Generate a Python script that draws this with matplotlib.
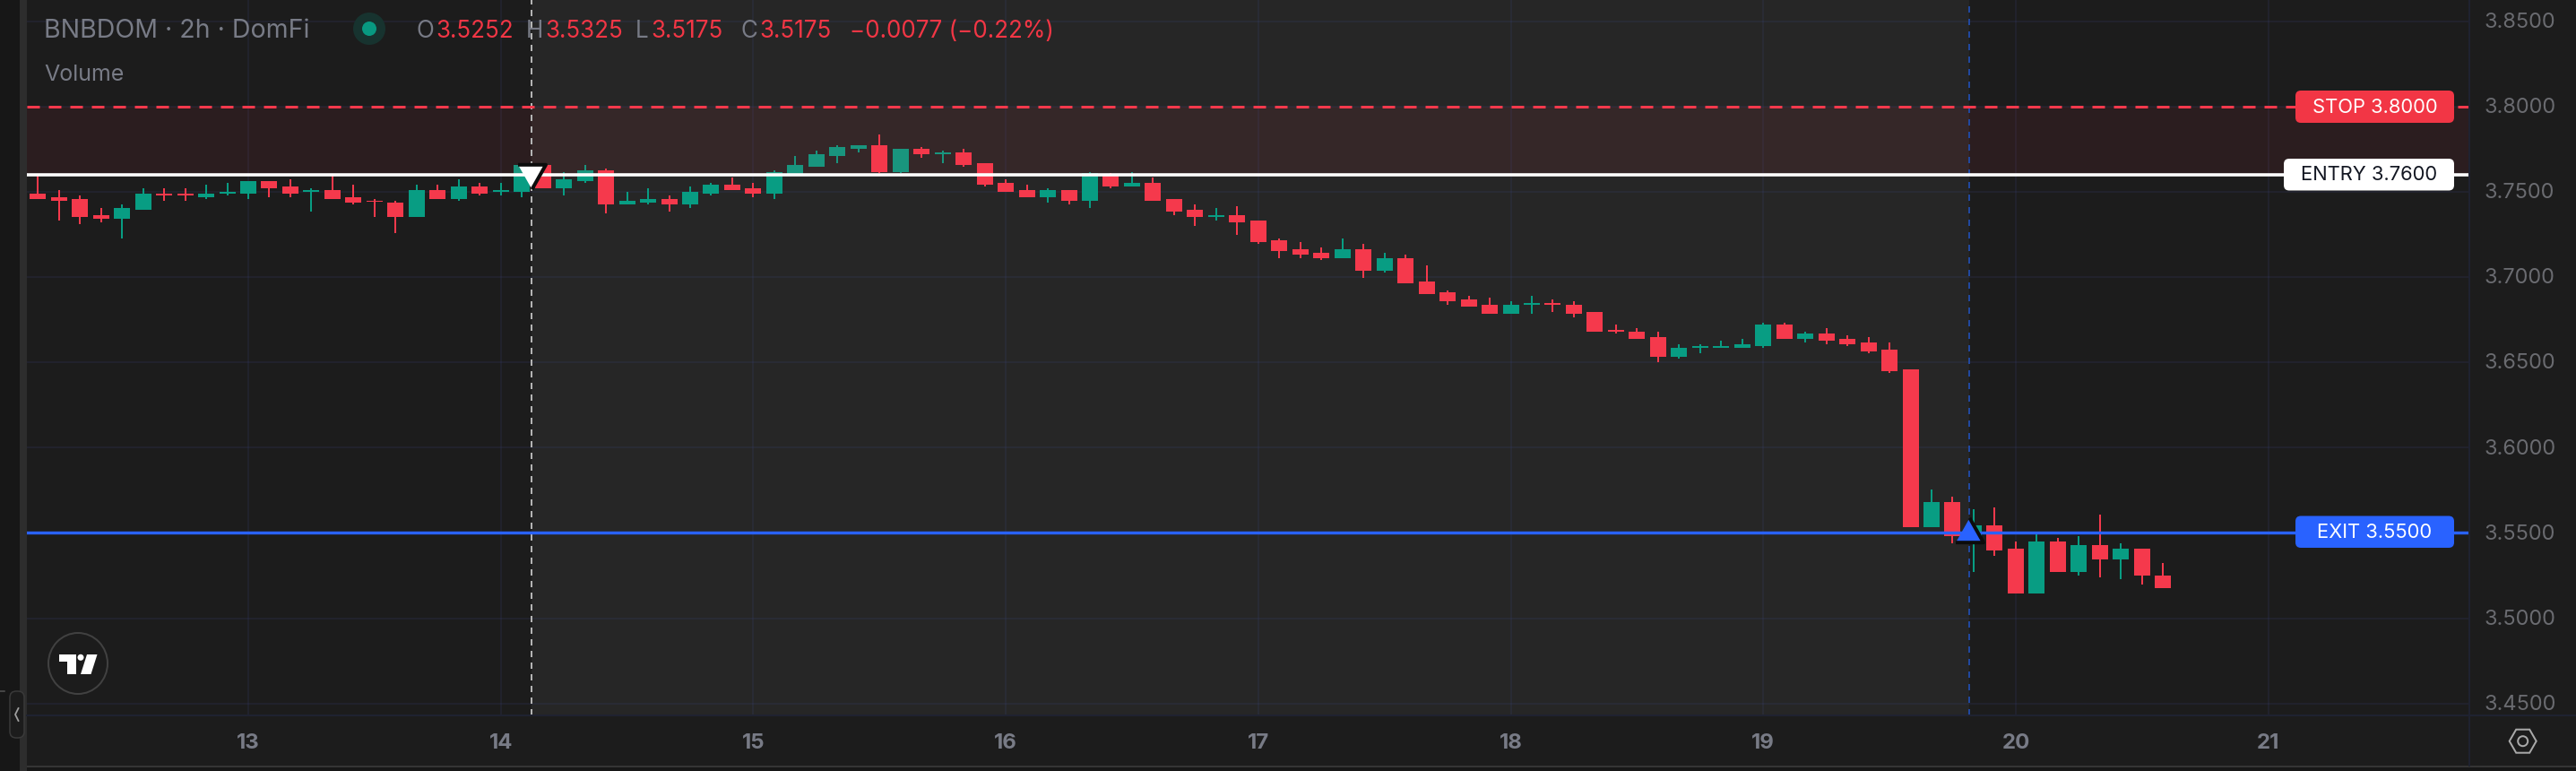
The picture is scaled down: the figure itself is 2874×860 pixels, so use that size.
import numpy as np
import matplotlib
matplotlib.use("Agg")
import matplotlib.pyplot as plt
from matplotlib.patches import Rectangle, FancyBboxPatch, Polygon, Ellipse
from matplotlib.markers import MarkerStyle
from matplotlib.transforms import ScaledTranslation

opens = [3.7491,3.7470,3.7459,3.7365,3.7344,3.7396,3.7491,3.7491,3.7470,3.7491,
         3.7491,3.7564,3.7533,3.7501,3.7512,3.7470,3.7449,3.7438,3.7354,3.7512,
         3.7459,3.7533,3.7501,3.7501,3.7659,3.7522,3.7564,3.7628,3.7428,3.7438,
         3.7459,3.7428,3.7491,3.7543,3.7522,3.7491,3.7601,3.7649,3.7712,3.7754,
         3.7775,3.7617,3.7754,3.7722,3.7733,3.7669,3.7554,3.7512,3.7469,3.7512,
         3.7449,3.7606,3.7533,3.7554,3.7459,3.7396,3.7354,3.7365,3.7333,3.7218,
         3.7165,3.7144,3.7113,3.7165,3.7039,3.7112,3.6976,3.6913,3.6871,3.6839,
         3.6787,3.6839,3.6850,3.6839,3.6797,3.6692,3.6681,3.6650,3.6534,3.6587,
         3.6587,3.6587,3.6597,3.6723,3.6639,3.6671,3.6639,3.6618,3.6576,3.6461,
         3.5536,3.5683,3.5462,3.5546,3.5409,3.5147,3.5452,3.5273,3.5431,3.5346,
         3.5409,3.5252]
closes = [3.7459,3.7449,3.7354,3.7344,3.7407,3.7491,3.7480,3.7480,3.7491,3.7501,
          3.7564,3.7522,3.7491,3.7512,3.7459,3.7438,3.7443,3.7354,3.7512,3.7459,
          3.7533,3.7491,3.7512,3.7659,3.7522,3.7575,3.7628,3.7428,3.7449,3.7459,
          3.7428,3.7501,3.7543,3.7512,3.7491,3.7617,3.7659,3.7722,3.7764,3.7775,
          3.7617,3.7754,3.7722,3.7733,3.7659,3.7543,3.7501,3.7469,3.7512,3.7449,
          3.7610,3.7533,3.7554,3.7449,3.7386,3.7354,3.7365,3.7323,3.7207,3.7155,
          3.7134,3.7113,3.7165,3.7039,3.7112,3.6965,3.6902,3.6860,3.6829,3.6787,
          3.6839,3.6850,3.6839,3.6787,3.6681,3.6681,3.6639,3.6534,3.6587,3.6597,
          3.6597,3.6608,3.6723,3.6639,3.6671,3.6629,3.6608,3.6566,3.6450,3.5536,
          3.5683,3.5483,3.5546,3.5399,3.5147,3.5452,3.5273,3.5431,3.5346,3.5409,
          3.5252,3.5175]
highs = [3.7603,3.7512,3.7480,3.7407,3.7428,3.7522,3.7522,3.7522,3.7543,3.7554,
         3.7564,3.7564,3.7575,3.7522,3.7603,3.7543,3.7459,3.7449,3.7543,3.7543,
         3.7575,3.7554,3.7554,3.7670,3.7659,3.7617,3.7659,3.7638,3.7501,3.7522,
         3.7480,3.7533,3.7554,3.7585,3.7554,3.7628,3.7712,3.7743,3.7775,3.7775,
         3.7838,3.7754,3.7764,3.7743,3.7754,3.7669,3.7575,3.7543,3.7522,3.7512,
         3.7617,3.7610,3.7617,3.7585,3.7459,3.7428,3.7407,3.7417,3.7333,3.7228,
         3.7207,3.7176,3.7228,3.7197,3.7144,3.7133,3.7070,3.6923,3.6892,3.6881,
         3.6860,3.6892,3.6871,3.6860,3.6797,3.6723,3.6702,3.6681,3.6608,3.6608,
         3.6629,3.6639,3.6734,3.6734,3.6681,3.6702,3.6660,3.6650,3.6618,3.6461,
         3.5756,3.5714,3.5641,3.5651,3.5452,3.5505,3.5473,3.5483,3.5609,3.5441,
         3.5409,3.5325]
lows = [3.7459,3.7333,3.7312,3.7323,3.7228,3.7396,3.7449,3.7449,3.7459,3.7480,
        3.7459,3.7470,3.7470,3.7386,3.7459,3.7428,3.7354,3.7260,3.7354,3.7459,
        3.7449,3.7480,3.7480,3.7470,3.7522,3.7480,3.7554,3.7375,3.7428,3.7428,
        3.7386,3.7407,3.7480,3.7512,3.7470,3.7459,3.7601,3.7649,3.7670,3.7733,
        3.7610,3.7610,3.7701,3.7669,3.7648,3.7533,3.7501,3.7469,3.7438,3.7428,
        3.7407,3.7522,3.7533,3.7449,3.7365,3.7302,3.7333,3.7249,3.7197,3.7113,
        3.7113,3.7102,3.7113,3.6997,3.7028,3.6965,3.6902,3.6839,3.6829,3.6787,
        3.6787,3.6787,3.6797,3.6766,3.6681,3.6671,3.6639,3.6503,3.6524,3.6555,
        3.6587,3.6587,3.6587,3.6639,3.6618,3.6608,3.6597,3.6555,3.6440,3.5536,
        3.5536,3.5441,3.5273,3.5367,3.5147,3.5147,3.5273,3.5252,3.5241,3.5231,
        3.5199,3.5175]

first_bar_day = 12 + 2 / 12
bar_step_days = 2 / 24
price_ticks = [3.85, 3.80, 3.75, 3.70, 3.65, 3.60, 3.55, 3.50, 3.45]
day_ticks = [13, 14, 15, 16, 17, 18, 19, 20, 21]
stop_price, entry_price, exit_price = 3.80, 3.76, 3.5503
entry_day, exit_day = 14.122, 19.815
entry_marker_price, exit_marker_price = 3.7588, 3.5520

W, H = 2874, 860
BG = "#1c1c1c"
SESSION = "#262626"
GRID = "#3c4682"
GRID_A = 0.16
EDGE = "#1f2230"
RED = "#f5394c"
GREEN = "#089d83"
BLUE = "#2962ff"
GREY = "#787b86"
AXG = "#6a6b70"
FONT = "Inter"
PX = 0.72  # points per pixel at dpi 100

fig = plt.figure(figsize=(W / 100, H / 100), dpi=100, facecolor=BG)
L, R, B = 30, 2755, 798.3
ax = fig.add_axes([L / W, 1 - B / H, (R - L) / W, B / H], facecolor=BG)
px_per_day = 281.7
ax.set_xlim(13 + (L - 277) / px_per_day, 13 + (R - 277) / px_per_day)
top_px = 23.7
ax.set_ylim(3.85 - (B - top_px) / 1902.5, 3.85 + top_px / 1902.5)

for s in ax.spines.values():
    s.set_visible(False)
ax.yaxis.tick_right()
ax.set_yticks(price_ticks)
ax.set_yticklabels([f"{p:.4f}" for p in price_ticks], fontfamily=FONT, fontsize=23.5 * PX, color=AXG)
ax.set_xticks(day_ticks)
ax.set_xticklabels([str(d) for d in day_ticks], fontfamily=FONT, fontsize=24 * PX, color=GREY, fontweight="bold")
ax.tick_params(axis="y", length=0, pad=16.5 * PX)
ax.tick_params(axis="x", length=0, pad=20 * PX)
for lbl in ax.get_yticklabels():
    lbl.set_transform(lbl.get_transform() + ScaledTranslation(0, 1.3 / 100, fig.dpi_scale_trans))

ax.axvspan(entry_day, exit_day, color=SESSION, lw=0, zorder=0.5)
for g in price_ticks:
    ax.axhline(g, color=GRID, alpha=GRID_A, lw=2 * PX, zorder=0.6)
for g in day_ticks:
    ax.axvline(g, color=GRID, alpha=GRID_A, lw=2 * PX, zorder=0.6)

# candles
o, c, h, l = map(np.array, (opens, closes, highs, lows))
t = first_bar_day + np.arange(len(o)) * bar_step_days
cols = [GREEN if cc >= oo else RED for oo, cc in zip(o, c)]
ax.vlines(t, l, h, colors=cols, lw=2 * PX, zorder=2)
ax.bar(t, np.abs(c - o), bottom=np.minimum(o, c), width=18 / px_per_day, color=cols, lw=0, zorder=2.1)

# risk zone and lines
ax.axhspan(entry_price, stop_price, color="#f23645", alpha=0.075, lw=0, zorder=2.5)
ax.axhline(stop_price, color=RED, lw=3 * PX, ls=(0, (14 / 3, 10 / 3)), zorder=3)
ax.axhline(entry_price, color="white", lw=3.6 * PX, zorder=3)
ax.axhline(exit_price, color=BLUE, lw=3.4 * PX, zorder=3)
ax.axvline(entry_day, color="#b4b4b4", lw=2 * PX, ls=(0, (7 / 2, 6 / 2)), zorder=2.8)
ax.axvline(exit_day, color="#21489f", lw=2 * PX, ls=(0, (7 / 2, 7 / 2)), zorder=2.8)

down = MarkerStyle(np.array([(-1, 0.883), (1, 0.883), (0, -0.883)]), joinstyle="miter")
up = MarkerStyle(np.array([(-1, -0.883), (1, -0.883), (0, 0.883)]), joinstyle="miter")
ax.plot([entry_day], [entry_marker_price], marker=down, ms=31 * PX, mfc="white", mec="#0c0c0c", mew=4 * PX, zorder=4, ls="none")
ax.plot([exit_day], [exit_marker_price], marker=up, ms=31 * PX, mfc=BLUE, mec="#0c0c0c", mew=4 * PX, zorder=4, ls="none")

# chrome in pixel coordinates
ov = fig.add_axes([0, 0, 1, 1], facecolor="none")
ov.set_xlim(0, W)
ov.set_ylim(H, 0)
ov.axis("off")

ov.add_patch(Rectangle((0, 0), 22, H, color="#171717", lw=0))
ov.add_patch(Rectangle((22, 0), 8, H, color="#2d2d2d", lw=0))
ov.add_patch(Rectangle((30, 854), W - 30, 2, color="#343434", lw=0))
ov.add_patch(Rectangle((30, 856), W - 30, 4, color="#171717", lw=0))
ov.plot([30, W], [798.3, 798.3], color=EDGE, lw=2 * PX)
ov.plot([R, R], [0, 854], color=EDGE, lw=2 * PX)
ov.plot([0, 5], [770.5, 770.5], color="#555555", lw=1.5 * PX)
ov.add_patch(FancyBboxPatch((11, 771), 16, 52, boxstyle="round,pad=0,rounding_size=7",
                            fc=BG, ec="#3a3a3a", lw=1.5 * PX, mutation_aspect=1))
ov.plot([20.5, 17, 20.5], [790, 797, 804], color="#a0a0a0", lw=1.8 * PX)

# header text
def T(x, y, s, color=GREY, size=27.5, **kw):
    kw.setdefault("va", "center")
    kw.setdefault("ha", "left")
    ov.text(x, y, s, color=color, fontsize=size * PX, fontfamily=FONT, **kw)

T(49, 35, "BNBDOM · 2h · DomFi", size=28.5)
T(49, 83, "Volume", size=25)
ov.add_patch(Ellipse((412, 32), 36, 36, color="#17332f", lw=0))
ov.add_patch(Ellipse((412, 32), 16, 16, color="#089981", lw=0))
FS = 26
lab = "#f23645"
for x, s, col in [(464, "O", GREY), (486, "3.5252", lab), (587, "H", GREY), (608, "3.5325", lab),
                  (709, "L", GREY), (726, "3.5175", lab), (826, "C", GREY), (847, "3.5175", lab),
                  (948, "−0.0077 (−0.22%)", lab)]:
    T(x, 34.5, s, color=col, size=FS)

# price pills
for x0, y0, x1, y1, s, fc, tc in [(2561, 101, 2738, 137, "STOP 3.8000", "#f23645", "white"),
                                  (2548, 177, 2738, 212.5, "ENTRY 3.7600", "white", "#131722"),
                                  (2561, 575.5, 2738, 611, "EXIT 3.5500", BLUE, "white")]:
    ov.add_patch(FancyBboxPatch((x0, y0), x1 - x0, y1 - y0, boxstyle="round,pad=0,rounding_size=6",
                                fc=fc, ec="none", zorder=5))
    ov.text((x0 + x1) / 2, (y0 + y1) / 2 + 0.5, s, color=tc, fontsize=22 * PX, fontfamily=FONT,
            ha="center", va="center", zorder=6)

# TradingView badge
ov.add_patch(Ellipse((87, 740), 66, 68, fc=BG, ec="#414141", lw=2 * PX))
ov.add_patch(Polygon([(66, 730), (85, 730), (85, 752), (75, 752), (75, 738), (66, 738)], color="white", lw=0))
ov.add_patch(Ellipse((90, 733.3), 7, 7, color="white", lw=0))
ov.add_patch(Polygon([(97, 730), (108.5, 730), (101.5, 752), (90, 752)], color="white", lw=0))

# settings icon
cx, cy = 2814.7, 826.7
hexv = [(cx - 15, cy), (cx - 7.5, cy - 13), (cx + 7.5, cy - 13), (cx + 15, cy), (cx + 7.5, cy + 13), (cx - 7.5, cy + 13)]
ov.add_patch(Polygon(hexv, closed=True, fc="none", ec="#a9a9a9", lw=2 * PX))
ov.add_patch(Ellipse((cx, cy), 11, 11, fc="none", ec="#a9a9a9", lw=2 * PX))

fig.savefig("out.png", dpi=100, facecolor=BG)
